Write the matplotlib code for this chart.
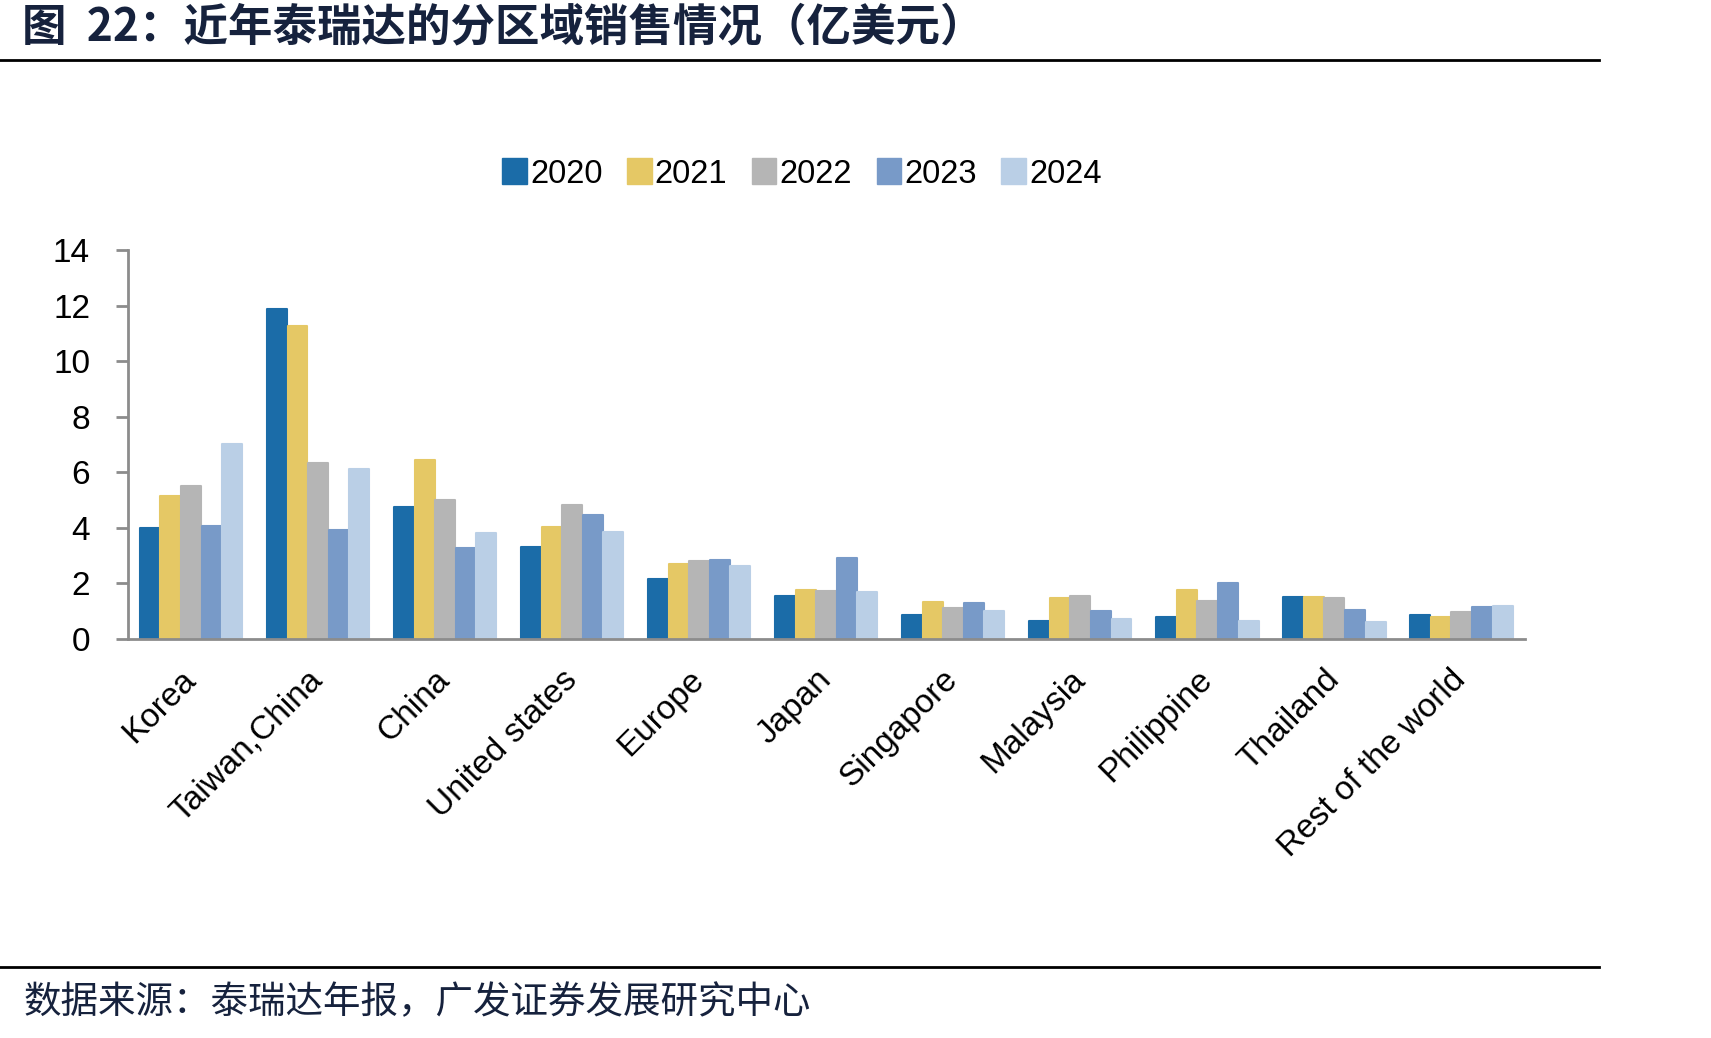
import matplotlib
matplotlib.use("Agg")
import matplotlib.pyplot as plt
import matplotlib.transforms as mtransforms
import numpy as np
from matplotlib.patches import Patch
from matplotlib.lines import Line2D

categories = ["Korea", "Taiwan,China", "China", "United states", "Europe", "Japan",
              "Singapore", "Malaysia", "Philippine", "Thailand", "Rest of the world"]
years = ["2020", "2021", "2022", "2023", "2024"]
v2020 = [4.0, 11.86, 4.74, 3.30, 2.15, 1.54, 0.85, 0.64, 0.78, 1.50, 0.85]
v2021 = [5.13, 11.28, 6.43, 4.02, 2.70, 1.75, 1.32, 1.46, 1.75, 1.50, 0.78]
v2022 = [5.52, 6.35, 5.02, 4.81, 2.80, 1.72, 1.10, 1.55, 1.36, 1.46, 0.96]
v2023 = [4.06, 3.94, 3.27, 4.45, 2.83, 2.92, 1.28, 1.00, 2.00, 1.03, 1.14]
v2024 = [7.03, 6.11, 3.83, 3.84, 2.62, 1.68, 1.00, 0.71, 0.64, 0.60, 1.18]
series = [v2020, v2021, v2022, v2023, v2024]
colors = ["#1B6CA8", "#E5C865", "#B5B5B5", "#789AC8", "#BACFE6"]
yticks = [0, 2, 4, 6, 8, 10, 12, 14]

W, H = 1711, 1038
fig = plt.figure(figsize=(W / 100, H / 100), dpi=100)
cjk = ["Noto Sans CJK SC", "DejaVu Sans"]
latin = "Liberation Sans"

ax = fig.add_axes([127.5 / W, 1 - 639 / H, (1525 - 127.5) / W, (639 - 250) / H])
x = np.arange(len(categories))
step = 0.162
for i, (vals, c) in enumerate(zip(series, colors)):
    ax.bar(x - 2 * step + i * step, vals, width=step * 0.97, color=c, edgecolor=c,
           linewidth=1.5, joinstyle="round", label=years[i], zorder=2)

ax.set_xlim(-0.5, len(categories) - 0.5)
ax.set_ylim(0, 14)
ax.set_yticks(yticks)
ax.set_yticklabels([str(t) for t in yticks], fontsize=24, fontfamily=latin)
ax.set_xticks(x)
ax.set_xticklabels(categories, rotation=45, ha="right", va="top", rotation_mode="anchor",
                   fontsize=24, fontfamily=latin)
ax.tick_params(axis="x", length=0, pad=18)
ax.tick_params(axis="y", length=9, width=2, color="#8c8c8c", pad=18, direction="out")
offset = mtransforms.ScaledTranslation(-11 / 100, 0, fig.dpi_scale_trans)
for lab in ax.get_xticklabels():
    lab.set_transform(lab.get_transform() + offset)
for s in ["top", "right"]:
    ax.spines[s].set_visible(False)
for s in ["left", "bottom"]:
    ax.spines[s].set_color("#8c8c8c")
    ax.spines[s].set_linewidth(2)
ax.spines["bottom"].set_zorder(3)

handles = [Patch(facecolor=c, edgecolor=c, label=y) for c, y in zip(colors, years)]
fig.legend(handles=handles, loc="center", bbox_to_anchor=(802 / W, 1 - 174 / H), ncol=5,
           frameon=False, prop={"family": latin, "size": 23.5}, handlelength=0.75,
           handleheight=0.85, handletextpad=0.1, columnspacing=0.75)

title_color = "#16223D"
fig.text(22 / W, 1 - 27 / H, "图  22：近年泰瑞达的分区域销售情况（亿美元）", fontsize=32,
         fontweight="bold", color=title_color, family=cjk, va="center", ha="left")
fig.add_artist(Line2D([0, 1599 / W], [1 - 60 / H, 1 - 60 / H], color="black", lw=2))
fig.add_artist(Line2D([0, 1599 / W], [1 - 967 / H, 1 - 967 / H], color="black", lw=2))
fig.text(24 / W, 1 - 1003 / H, "数据来源：泰瑞达年报，广发证券发展研究中心", fontsize=27,
         color=title_color, family=cjk, va="center", ha="left")

fig.savefig("out.png", dpi=100)
